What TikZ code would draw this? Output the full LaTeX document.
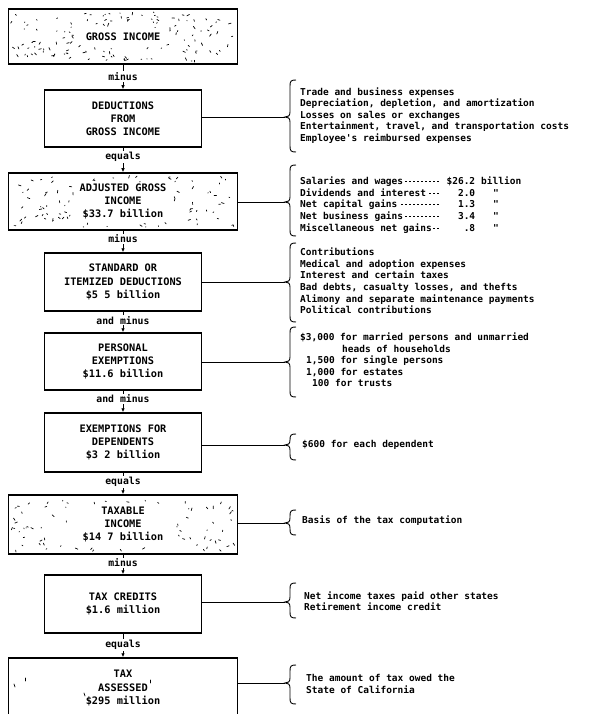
\documentclass[tikz,border=0pt]{standalone}
\usepackage{fontspec}
\newfontfamily\tw{DejaVu Sans Mono}
\usetikzlibrary{arrows.meta}
\tikzset{
  box/.style={draw, line width=1.5pt, align=center, inner sep=0pt, font=\tw\bfseries\fontsize{10.3}{13.2}\selectfont},
  wide/.style={box, minimum width=229pt},
  narrow/.style={box, minimum width=157pt},
  flow/.style={line width=0.8pt, -{Latex[length=4pt,width=3.5pt]}},
  lbl/.style={fill=white, inner sep=1pt, font=\tw\bfseries\fontsize{9.8}{12}\selectfont},
  link/.style={line width=0.8pt},
  brc/.style={line width=0.9pt},
  note/.style={anchor=west, align=left, inner sep=0pt, font=\tw\bfseries\fontsize{9.5}{11.6}\selectfont},
  speck/.style={line width=0.7pt, line cap=round},
}
\newcommand\vbrace[4]{%
  \draw[brc] (296,#2) .. controls (291,#2) and (290,#2+1) .. (290,#2+6) -- (290,#4-5)
    .. controls (290,#4-1) and (288,#4) .. (285,#4)
    .. controls (288,#4) and (290,#4+1) .. (290,#4+5) -- (290,#3-6)
    .. controls (290,#3-1) and (291,#3) .. (296,#3);
  \coordinate (#1) at (285,#4);
}
\newcommand\speckles[9]{%
  \foreach \k in {1,...,#9}{
    \pgfmathsetmacro\spkx{#1+rnd*(#3-#1)}
    \pgfmathsetmacro\spky{#2+rnd*(#4-#2)}
    \pgfmathsetmacro\spkin{((\spkx>#5)&&(\spkx<#7)&&(\spky>#6)&&(\spky<#8))}
    \pgfmathsetmacro\spka{rnd*360}
    \pgfmathsetmacro\spkl{0.5+rnd*2.4}
    \ifdim\spkin pt<0.5pt
      \draw[speck] (\spkx,\spky) -- ++(\spka:\spkl);
    \fi
  }
}
\newcommand\dashfill{\leaders\hbox to 4pt{\hss\rule[2.6pt]{2.4pt}{0.8pt}\hss}\hfill}
\begin{document}
\begin{tikzpicture}[x=1pt,y=-1pt]
\fill[white] (0,0) rectangle (601,714);
\useasboundingbox (0,0) rectangle (601,714);
\pgfmathsetseed{7}

% boxes
\node[wide, minimum height=55pt] (gi) at (123,36.5) {GROSS INCOME};
\node[narrow, minimum height=57pt] (dg) at (123,118.5) {DEDUCTIONS\\FROM\\GROSS INCOME};
\node[wide, minimum height=57pt] (ag) at (123,201.5) {ADJUSTED GROSS\\INCOME\\\$33.7 billion};
\node[narrow, minimum height=58pt] (sd) at (123,282) {STANDARD OR\\ITEMIZED DEDUCTIONS\\\$5 5 billion};
\node[narrow, minimum height=57pt] (pe) at (123,361.5) {PERSONAL\\EXEMPTIONS\\\$11.6 billion};
\node[narrow, minimum height=59pt] (ed) at (123,442.5) {EXEMPTIONS FOR\\DEPENDENTS\\\$3 2 billion};
\node[wide, minimum height=59pt] (ti) at (123,524.5) {TAXABLE\\INCOME\\\$14 7 billion};
\node[narrow, minimum height=58pt] (tc) at (123,604) {TAX CREDITS\\\$1.6 million};
\node[wide, minimum height=60pt] (ta) at (123,688) {TAX\\ASSESSED\\\$295 million};

% speckled fill
\speckles{11}{12}{234}{61}{78}{28}{166}{45}{150}
\speckles{11}{176}{234}{227}{76}{182}{174}{222}{135}
\speckles{11}{498}{234}{551}{74}{504}{172}{544}{115}
\draw[speck] (14,684) -- (15,687);
\draw[speck] (25,678) -- (25,681);
\draw[speck] (84,693) -- (85,696);
\draw[speck] (150,680) -- (150,683);

% flow
\draw[flow] (gi) -- node[lbl, pos=0.48] {minus} (dg);
\draw[flow] (dg) -- node[lbl, pos=0.38] {equals} (ag);
\draw[flow] (ag) -- node[lbl, pos=0.38] {minus} (sd);
\draw[flow] (sd) -- node[lbl, pos=0.42] {and minus} (pe);
\draw[flow] (pe) -- node[lbl, pos=0.38] {and minus} (ed);
\draw[flow] (ed) -- node[lbl, pos=0.42] {equals} (ti);
\draw[flow] (ti) -- node[lbl, pos=0.42] {minus} (tc);
\draw[flow] (tc) -- node[lbl, pos=0.48] {equals} (ta);

% braces
\vbrace{b1}{80}{152}{117}
\vbrace{b2}{165}{236}{202}
\vbrace{b3}{243}{322}{282}
\vbrace{b4}{327}{397}{362}
\vbrace{b5}{434}{460}{445}
\vbrace{b6}{510}{535}{523}
\vbrace{b7}{583}{618}{602}
\vbrace{b8}{665}{704}{683}

\draw[link] (dg.east |- b1) -- (b1);
\draw[link] (ag.east |- b2) -- (b2);
\draw[link] (sd.east |- b3) -- (b3);
\draw[link] (pe.east |- b4) -- (b4);
\draw[link] (ed.east |- b5) -- (b5);
\draw[link] (ti.east |- b6) -- (b6);
\draw[link] (tc.east |- b7) -- (b7);
\draw[link] (ta.east |- b8) -- (b8);

% notes
\node[note] (n1) at (300,115.5) {Trade and business expenses\\Depreciation, depletion, and amortization\\Losses on sales or exchanges\\Entertainment, travel, and transportation costs\\Employee\textquotesingle s reimbursed expenses};
\node[note] (n2) at (300,205) {%
\makebox[148pt][l]{Salaries and wages\dashfill\hspace*{5pt}}\makebox[27pt][r]{\$26.2}\hspace{6pt}billion\\
\makebox[148pt][l]{Dividends and interest\dashfill\hspace*{5pt}}\makebox[27pt][r]{2.0}\hspace{18pt}"\\
\makebox[148pt][l]{Net capital gains\dashfill\hspace*{5pt}}\makebox[27pt][r]{1.3}\hspace{18pt}"\\
\makebox[148pt][l]{Net business gains\dashfill\hspace*{5pt}}\makebox[27pt][r]{3.4}\hspace{18pt}"\\
\makebox[148pt][l]{Miscellaneous net gains\dashfill\hspace*{5pt}}\makebox[27pt][r]{.8}\hspace{18pt}"};
\node[note] (n3) at (300,281) {Contributions\\Medical and adoption expenses\\Interest and certain taxes\\Bad debts, casualty losses, and thefts\\Alimony and separate maintenance payments\\Political contributions};
\node[note] (n4) at (300,360) {\$3,000 for married persons and unmarried\\\hspace*{42pt}heads of households\\\hspace*{6pt}1,500 for single persons\\\hspace*{6pt}1,000 for estates\\\hspace*{12pt}100 for trusts};
\node[note] (n5) at (302,445) {\$600 for each dependent};
\node[note] (n6) at (302,521) {Basis of the tax computation};
\node[note] (n7) at (304,601) {Net income taxes paid other states\\Retirement income credit};
\node[note] (n8) at (306,684) {The amount of tax owed the\\State of California};
\end{tikzpicture}
\end{document}
